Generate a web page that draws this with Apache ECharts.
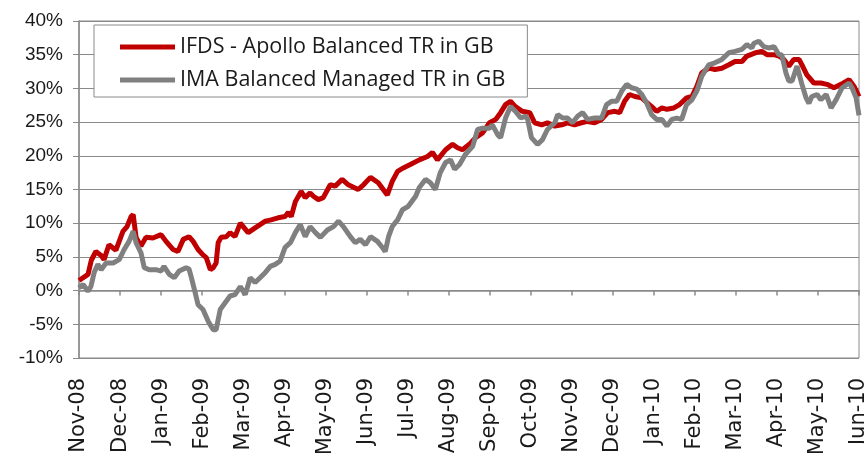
<!DOCTYPE html>
<html>
<head>
<meta charset="utf-8">
<script src="https://cdn.jsdelivr.net/npm/echarts@6/dist/echarts.min.js"></script>
<style>
  html, body { margin: 0; padding: 0; background: #fff; }
  #chart { width: 864px; height: 453px; }
</style>
</head>
<body>
<div id="chart"></div>
<script>
// month labels on the x axis (one per month start)
const monthLabels = ['Nov-08','Dec-08','Jan-09','Feb-09','Mar-09','Apr-09','May-09','Jun-09','Jul-09','Aug-09',
  'Sep-09','Oct-09','Nov-09','Dec-09','Jan-10','Feb-10','Mar-10','Apr-10','May-10','Jun-10'];

// IFDS - Apollo Balanced: position in months since Nov-08, and total return (%)
const ifdsAt = [0,0.22,0.30,0.41,0.54,0.61,0.73,0.90,1.07,1.17,1.27,1.32,1.39,1.51,1.63,1.80,2.00,2.12,2.29,2.41,
  2.54,2.68,2.78,2.90,3.02,3.10,3.20,3.27,3.34,3.39,3.46,3.59,3.68,3.80,3.93,4.00,4.12,4.29,4.54,4.68,
  4.85,5.02,5.10,5.17,5.27,5.41,5.51,5.63,5.71,5.83,5.95,6.12,6.24,6.41,6.56,6.80,6.93,7.10,7.29,7.51,
  7.63,7.76,7.90,8.07,8.29,8.49,8.61,8.73,8.93,9.10,9.22,9.34,9.51,9.66,9.83,10.00,10.15,10.27,10.39,10.51,
  10.63,10.80,10.98,11.10,11.27,11.41,11.59,11.76,11.90,12.07,12.24,12.39,12.56,12.73,12.88,13.05,13.17,13.29,13.41,13.54,
  13.71,13.83,13.95,14.07,14.20,14.32,14.49,14.63,14.80,14.93,15.05,15.17,15.34,15.49,15.66,15.83,15.98,16.15,16.27,16.49,
  16.63,16.76,16.93,17.05,17.17,17.29,17.41,17.54,17.61,17.73,17.90,18.07,18.22,18.39,18.56,18.76,18.88,19.00];
const ifds = [1.5,2.4,4.5,5.8,5.2,4.6,6.8,6.0,8.8,9.5,11.0,11.3,7.9,6.6,7.9,7.8,8.3,7.3,6.1,5.8,
  7.6,8.0,7.3,6.1,5.3,4.9,3.1,3.4,4.1,7.1,7.9,8.0,8.6,8.0,10.0,9.5,8.6,9.3,10.3,10.5,
  10.8,11.0,11.6,11.0,13.2,14.7,13.8,14.5,14.0,13.5,13.8,15.7,15.5,16.5,15.7,15.0,15.7,16.8,16.0,14.2,
  16.2,17.7,18.2,18.7,19.4,19.9,20.5,19.4,20.9,21.7,21.2,20.9,21.7,22.7,23.4,24.9,25.4,26.4,27.6,28.1,
  27.3,26.6,26.4,24.9,24.6,24.9,24.4,24.6,24.9,24.6,24.9,25.1,24.9,25.4,26.4,26.6,26.4,28.1,29.1,28.8,
  28.6,27.9,27.3,26.6,27.1,26.9,27.1,27.6,28.6,28.8,30.3,32.3,33.0,32.8,33.0,33.5,34.0,34.0,34.8,35.3,
  35.5,35.0,35.0,34.8,34.3,33.3,34.3,34.3,33.5,32.0,30.8,30.8,30.6,30.1,30.6,31.3,30.3,28.8];

// IMA Balanced Managed: position in months since Nov-08, and total return (%)
const imaAt = [0,0.10,0.22,0.29,0.37,0.46,0.54,0.66,0.83,0.98,1.10,1.22,1.32,1.39,1.51,1.59,1.71,1.88,2.00,2.07,
  2.20,2.32,2.44,2.61,2.68,2.73,2.83,2.90,3.02,3.15,3.27,3.34,3.44,3.56,3.68,3.80,3.93,4.05,4.17,4.29,
  4.41,4.54,4.66,4.78,4.90,5.02,5.15,5.27,5.39,5.51,5.63,5.76,5.88,6.05,6.20,6.32,6.44,6.61,6.73,6.85,
  6.98,7.10,7.27,7.39,7.46,7.54,7.63,7.76,7.88,8.02,8.20,8.29,8.44,8.56,8.68,8.80,8.93,9.05,9.15,9.27,
  9.41,9.59,9.71,9.83,10.00,10.07,10.20,10.27,10.39,10.51,10.63,10.76,10.88,10.93,11.02,11.17,11.29,11.41,11.59,11.66,
  11.78,11.90,12.02,12.15,12.27,12.39,12.56,12.73,12.85,12.98,13.10,13.22,13.34,13.46,13.59,13.71,13.83,13.95,14.07,14.20,
  14.32,14.44,14.56,14.68,14.80,14.93,15.05,15.17,15.34,15.49,15.66,15.83,15.98,16.15,16.27,16.39,16.44,16.56,16.68,16.80,
  16.93,17.05,17.12,17.22,17.29,17.37,17.49,17.61,17.71,17.78,17.85,17.98,18.07,18.20,18.32,18.44,18.59,18.76,18.83,18.93,19.00];
const ima = [0.4,0.9,-0.1,0.6,2.7,3.9,3.1,4.1,4.1,4.6,6.1,7.3,8.8,7.1,5.6,3.4,3.1,3.1,2.9,3.6,
  2.4,1.9,2.9,3.4,3.2,2.1,-0.3,-2.1,-2.8,-4.6,-5.8,-5.8,-2.8,-1.8,-0.8,-0.6,0.6,-0.6,1.9,1.2,
  1.9,2.7,3.6,3.9,4.4,6.4,7.1,8.6,9.8,8.0,9.5,8.6,7.9,9.0,9.5,10.3,9.5,8.0,7.1,7.6,
  6.8,8.0,7.3,6.4,5.8,8.0,9.5,10.5,12.0,12.5,14.0,15.3,16.5,16.0,15.0,17.5,19.0,19.4,18.0,18.7,
  20.2,21.4,23.9,24.1,24.1,24.6,23.1,22.7,25.6,27.3,26.6,25.6,25.9,25.4,22.7,21.7,22.4,23.9,24.9,26.1,
  25.6,25.6,24.9,25.9,26.4,25.4,25.6,25.6,27.6,28.1,28.1,29.6,30.6,30.1,29.9,29.1,27.8,26.1,25.4,25.4,
  24.4,25.4,25.6,25.4,27.6,28.3,29.6,31.8,33.5,33.8,34.3,35.3,35.5,35.8,36.5,36.0,36.7,37.0,36.2,36.0,
  36.2,35.0,35.0,32.3,31.1,31.1,33.3,30.6,28.6,27.8,28.8,29.1,28.3,29.1,27.1,28.3,30.1,30.8,30.1,28.6,26.0];

const yTicks = { min: -10, max: 40, step: 5 };

const chart = echarts.init(document.getElementById('chart'));
const gridGray = '#8a8a8a';

const option = {
  animation: false,
  backgroundColor: '#fff',
  grid: {
    left: 79, right: 5, top: 21, bottom: 95,
    outerBoundsMode: 'none',
    show: true, borderColor: gridGray, borderWidth: 1
  },
  legend: {
    orient: 'vertical',
    left: 94, top: 25,
    padding: [11, 22, 6, 26],
    backgroundColor: '#fff',
    borderColor: gridGray, borderWidth: 1,
    icon: 'rect', itemWidth: 55, itemHeight: 5, itemGap: 11,
    textStyle: { fontFamily: 'Open Sans', fontSize: 21.5, color: '#1a1a1a', lineHeight: 22 },
    data: ['IFDS - Apollo Balanced TR in GB', 'IMA Balanced Managed TR in GB']
  },
  xAxis: [
    {
      type: 'value', min: 0, max: monthLabels.length - 1, interval: 1,
      position: 'bottom',
      axisLine: { show: false, onZero: false },
      axisTick: { show: false },
      splitLine: { show: false },
      axisLabel: {
        rotate: 90, margin: 20,
        fontFamily: 'DejaVu Sans', fontSize: 21, color: '#1a1a1a',
        formatter: v => monthLabels[v] || ''
      }
    },
    {
      type: 'value', min: 0, max: monthLabels.length - 1, interval: 1,
      position: 'bottom',
      axisLine: { show: true, onZero: true, lineStyle: { color: gridGray, width: 1.5 } },
      axisTick: { show: true, length: 5, lineStyle: { color: gridGray, width: 1.5 } },
      splitLine: { show: false },
      axisLabel: { show: false }
    }
  ],
  yAxis: {
    type: 'value', min: yTicks.min, max: yTicks.max, interval: yTicks.step,
    axisLine: { show: true, lineStyle: { color: gridGray, width: 1.5 } },
    axisTick: { show: true, length: 6, lineStyle: { color: gridGray } },
    splitLine: { lineStyle: { color: gridGray, width: 1 } },
    axisLabel: {
      margin: 16,
      fontFamily: 'Liberation Sans', fontSize: 19, color: '#1a1a1a',
      formatter: v => v + '%'
    }
  },
  series: [
    {
      name: 'IFDS - Apollo Balanced TR in GB',
      type: 'line', xAxisIndex: 0,
      showSymbol: false, symbol: 'none',
      lineStyle: { color: '#c00000', width: 5 },
      itemStyle: { color: '#c00000' },
      data: ifdsAt.map((m, i) => [m, ifds[i]])
    },
    {
      name: 'IMA Balanced Managed TR in GB',
      type: 'line', xAxisIndex: 0,
      showSymbol: false, symbol: 'none',
      lineStyle: { color: '#808080', width: 5 },
      itemStyle: { color: '#808080' },
      data: imaAt.map((m, i) => [m, ima[i]])
    }
  ]
};

chart.setOption(option);
</script>
</body>
</html>
